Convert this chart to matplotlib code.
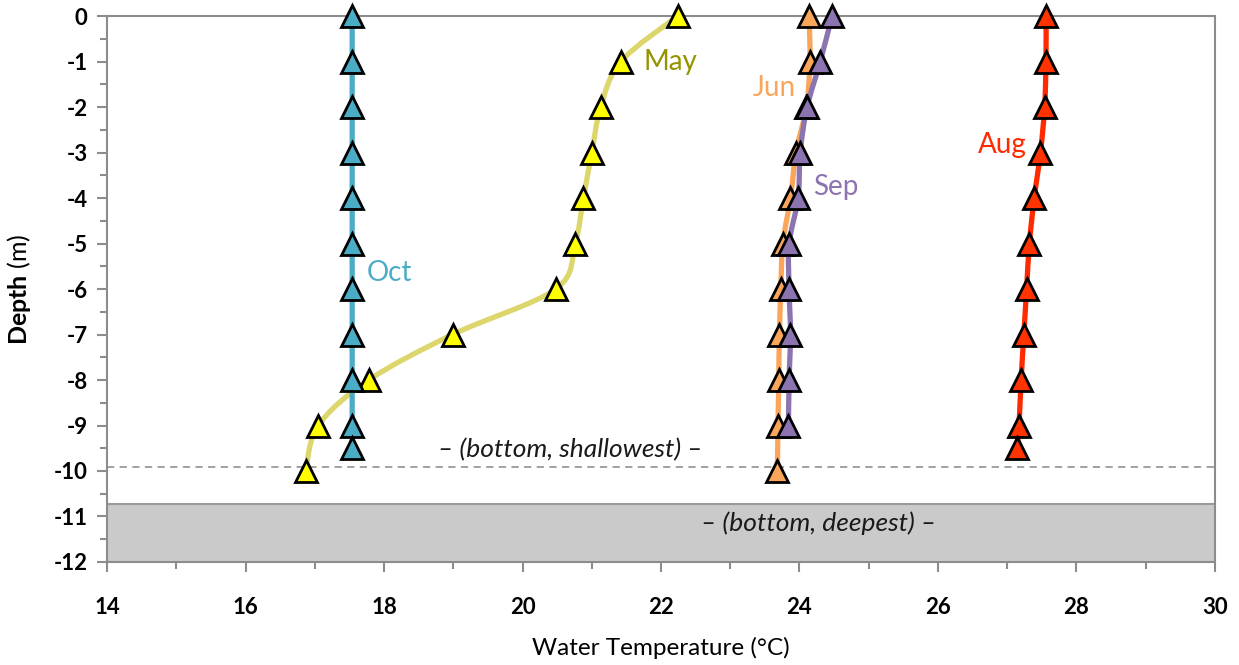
import matplotlib
matplotlib.use("Agg")
import matplotlib.pyplot as plt
from matplotlib.path import Path
from matplotlib.patches import PathPatch

plt.rcParams['font.family'] = ['Lato', 'DejaVu Sans']
plt.rcParams['mathtext.fontset'] = 'custom'
plt.rcParams['mathtext.rm'] = 'Lato'
plt.rcParams['mathtext.bf'] = 'Lato:bold'
plt.rcParams['axes.unicode_minus'] = False

# depth profiles (m) and water temperature (deg C)
depth_full = [0, -1, -2, -3, -4, -5, -6, -7, -8, -9, -10]
depth_oct = [0, -1, -2, -3, -4, -5, -6, -7, -8, -9, -9.5]
depth_sep = [0, -1, -2, -3, -4, -5, -6, -7, -8, -9]
depth_aug = [0, -1, -2, -3, -4, -5, -6, -7, -8, -9, -9.5]

temp_may = [22.24, 21.42, 21.13, 21.00, 20.88, 20.76, 20.48, 18.99, 17.78, 17.05, 16.87]
temp_jun = [24.14, 24.15, 24.10, 23.95, 23.87, 23.76, 23.73, 23.71, 23.70, 23.69, 23.68]
temp_sep = [24.47, 24.30, 24.11, 24.01, 23.98, 23.85, 23.85, 23.87, 23.85, 23.84]
temp_aug = [27.56, 27.56, 27.54, 27.48, 27.39, 27.32, 27.28, 27.24, 27.20, 27.17, 27.14]
temp_oct = [17.54] * 11

bottom_shallow = -9.92
bottom_deep = -10.73


def smooth_path(xs, ys):
    # catmull-rom through the points, drawn as bezier segments
    pts = list(zip(xs, ys))
    n = len(pts)
    verts = [pts[0]]
    codes = [Path.MOVETO]
    for i in range(n - 1):
        p0 = pts[i - 1] if i > 0 else pts[i]
        p1 = pts[i]
        p2 = pts[i + 1]
        p3 = pts[i + 2] if i + 2 < n else pts[i + 1]
        c1 = (p1[0] + (p2[0] - p0[0]) / 6, p1[1] + (p2[1] - p0[1]) / 6)
        c2 = (p2[0] - (p3[0] - p1[0]) / 6, p2[1] - (p3[1] - p1[1]) / 6)
        verts += [c1, c2, p2]
        codes += [Path.CURVE4] * 3
    return Path(verts, codes)


fig = plt.figure(figsize=(12.39, 6.65), dpi=100)
ax = fig.add_axes([0.0864, 0.1549, 0.8942, 0.821])

ax.axhspan(-12, bottom_deep, color='#cacaca', zorder=0)
ax.axhline(bottom_deep, color='#9a9a9a', lw=1.5, zorder=1)
ax.axhline(bottom_shallow, color='#9a9a9a', lw=1.3, ls=(0, (4, 3)), zorder=1)

series = [
    (temp_may, depth_full, '#dcd66c', '#ffff00'),
    (temp_oct, depth_oct, '#4bacc6', '#4bacc6'),
    (temp_jun, depth_full, '#f9a65a', '#f9a65a'),
    (temp_sep, depth_sep, '#8c74b0', '#8c74b0'),
    (temp_aug, depth_aug, '#ff2a00', '#ff3300'),
]
z = 3
for xs, ys, lc, mc in series:
    patch = PathPatch(smooth_path(xs, ys), facecolor='none', edgecolor=lc,
                      lw=3.8, zorder=z, capstyle='round')
    ax.add_patch(patch)
    ax.plot(xs, ys, ls='none', marker='^', ms=16, mfc=mc, mec='black',
            mew=2, zorder=z + 0.5, clip_on=False)
    z += 1

lab_font = 20
ax.text(22.13, -1.01, 'May', color='#949400', fontsize=lab_font, va='center', ha='center')
ax.text(23.63, -1.58, 'Jun', color='#f9a65a', fontsize=lab_font, va='center', ha='center')
ax.text(24.53, -3.76, 'Sep', color='#8c74b0', fontsize=lab_font, va='center', ha='center')
ax.text(18.08, -5.65, 'Oct', color='#4bacc6', fontsize=lab_font, va='center', ha='center')
ax.text(26.93, -2.84, 'Aug', color='#ff2a00', fontsize=lab_font, va='center', ha='center')

ax.text(20.69, -9.54, '\u2013 (bottom, shallowest) \u2013', style='italic',
        fontsize=19, ha='center', va='center', color='#1a1a1a')
ax.text(24.27, -11.14, '\u2013 (bottom, deepest) \u2013', style='italic',
        fontsize=19, ha='center', va='center', color='#1a1a1a')

ax.set_xlim(14, 30)
ax.set_ylim(-12, 0)
ax.set_xticks(range(14, 31, 2))
ax.set_xticks(range(15, 30, 2), minor=True)
ax.set_yticks(range(-12, 1))
ax.set_yticks([v + 0.5 for v in range(-12, 0)], minor=True)

for s in ax.spines.values():
    s.set_color('#8c8c8c')
    s.set_linewidth(1.5)

ax.tick_params(axis='both', which='both', color='#8c8c8c', width=1.5, direction='out')
ax.tick_params(axis='both', which='major', length=7, labelsize=16)
ax.tick_params(axis='both', which='minor', length=5)
ax.tick_params(axis='x', which='major', pad=18)
ax.tick_params(axis='y', which='major', pad=7)
for lbl in ax.get_xticklabels() + ax.get_yticklabels():
    lbl.set_fontweight('bold')

ax.set_xlabel('Water Temperature (\u00b0C)', fontsize=17.5)
ax.set_ylabel(r'$\mathbf{Depth}$ (m)', fontsize=18)
ax.xaxis.set_label_coords(0.5, -0.137)
ax.yaxis.set_label_coords(-0.067, 0.5)

fig.savefig('out.png', dpi=100, facecolor='white')
